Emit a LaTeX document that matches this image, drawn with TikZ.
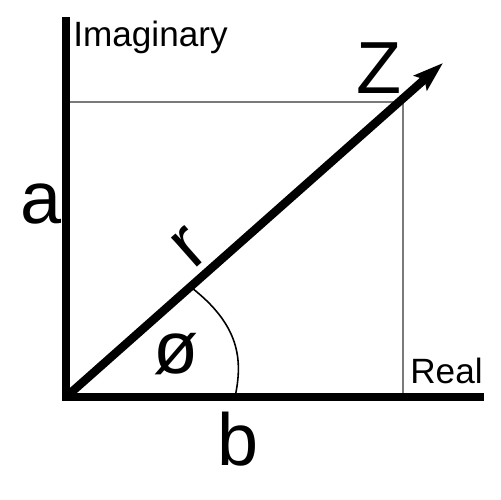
\documentclass[tikz,border=0pt]{standalone}
\usepackage{fontspec}
\setmainfont{Liberation Sans}
\usetikzlibrary{arrows.meta, calc}
\definecolor{guideGrey}{HTML}{7A7A7A}

\begin{document}
\begin{tikzpicture}[x=0.02cm, y=-0.02cm,
    axis/.style={line width=4.8pt},
    guide/.style={guideGrey, line width=1.6pt},
    smalllbl/.style={font=\fontsize{20}{22}\selectfont, inner sep=0pt, anchor=base west},
    biglbl/.style={font=\fontsize{42}{44}\selectfont, inner sep=0pt}]
  \useasboundingbox (0,0) rectangle (500,500);

  % points du plan
  \coordinate (O)    at (66,397);
  \coordinate (Itop) at (66,21);
  \coordinate (Rend) at (480,397);
  \coordinate (Ztip) at (443,63);
  \coordinate (P)    at (403,102);
  \coordinate (Abot) at (235,397);
  \coordinate (Atop) at ($(O)!0.33!(Ztip)$);

  % projections
  \draw[guide] (O |- P) -- (P) -- (P |- O);

  % angle
  \draw[line width=0.9pt] (Abot) .. controls (243,360) and (240,325) .. (Atop);

  % axes et vecteur
  \draw[axis, line cap=rect] (Itop) -- (O) -- (Rend);
  \draw[axis, -{Stealth[length=17pt, width=11pt, inset=3pt]}] (O) -- (Ztip);

  % textes
  \node[smalllbl] (imlbl) at (73,47) {Imaginary};
  \node[smalllbl] (relbl) at (410,383) {Real};
  \node[biglbl, anchor=base west] (zlbl) at (356,93) {Z};
  \node[biglbl, anchor=base west] (albl) at (20,223) {a};
  \node[biglbl, anchor=base west] (blbl) at (217,465) {b};
  \node[biglbl, rotate=41.5, anchor=base] (rlbl) at (203,262) {r};
  \node[biglbl] (philbl) at (176,354) {ø};
\end{tikzpicture}
\end{document}
